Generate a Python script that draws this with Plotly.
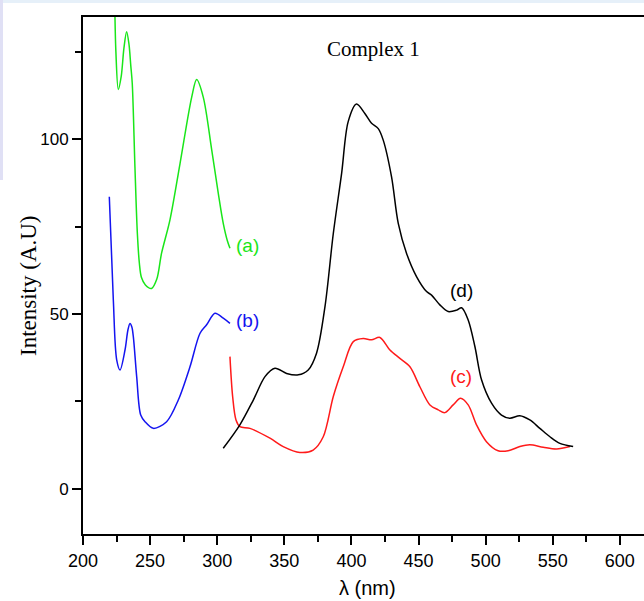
import plotly.graph_objects as go

# ---- data ----
wl_a = [223.6, 224.5, 226.3, 228.5, 230.5, 232.5, 234.3, 235.6, 236.7, 238.7, 240.5, 242.0, 243.5,
        246.5, 251.1, 255.0, 258.5, 264.8, 272.3, 281.0, 284.7, 289.6, 295.9, 300.8, 304.5,
        307.5, 309.5]
int_a = [140, 125, 114.2, 118, 126, 130.7, 127, 121, 115.9, 92, 73, 64.5, 60.5,
         58.3, 57.3, 60, 67.3, 76.9, 93, 112, 117, 112, 96.9, 84.5, 75.9,
         71, 68.8]

wl_b = [219.6, 222.6, 225.1, 227.6, 231.3, 233.5, 235.0, 236.4, 237.5, 240.0, 243.0, 246.2,
        252.4, 262.3, 271.0, 279.7, 287.2, 292.1, 298.3, 304.5, 309.5]
int_b = [83.5, 54, 36.9, 34, 39.7, 45.5, 47.3, 46.3, 43.5, 32.1, 21.1, 19.2,
         17.3, 19.2, 25.4, 34.9, 44.5, 46.9, 50.2, 48.8, 47.3]

wl_c = [309.5, 311.5, 314.0, 316.9, 324.4, 339.3, 349.2, 361.6, 371.5, 379.0, 386.5, 393.9,
        401.4, 408.8, 415.0, 421.2, 428.7, 436.1, 443.6, 451.0, 458.5, 464.7, 469.6, 475.8,
        481.3, 487.0, 493.2, 500.6, 509.3, 516.8, 525.5, 532.9, 542.9, 552.8, 562.8]
int_c = [37.8, 26.4, 19.7, 17.8, 17.3, 14.5, 12.1, 10.4, 11.1, 14.9, 26.4, 34.9,
         42.1, 43.0, 42.6, 43.3, 39.7, 37.3, 34.9, 29.2, 24.0, 22.6, 21.8, 24.0,
         25.9, 24.0, 18.3, 13.5, 10.9, 10.9, 12.1, 12.6, 11.9, 11.4, 12.1]

wl_d = [304.5, 316.9, 326.9, 335.6, 343.0, 351.7, 360.4, 367.8, 374.0, 380.3, 386.5, 392.7,
        397.6, 403.8, 410.0, 415.0, 420.0, 423.7, 429.9, 434.9, 441.1, 448.5, 456.0, 459.7,
        465.9, 472.1, 478.4, 482.1, 487.0, 492.0, 497.0, 504.4, 511.8, 518.0, 525.5, 532.9,
        540.4, 547.9, 555.3, 565.2]
int_d = [11.6, 18.3, 25.4, 32.1, 34.5, 33.0, 32.6, 34.0, 38.8, 52.1, 73.0, 90.2,
         105.0, 110.0, 107.3, 104.5, 103.0, 99.7, 89.2, 75.9, 67.3, 60.7, 56.4, 55.4,
         52.6, 50.7, 51.1, 51.8, 48.3, 40.7, 31.1, 24.5, 21.1, 20.2, 20.9, 19.7,
         17.3, 14.9, 13.0, 12.1]

series_names = ["(a)", "(b)", "(c)", "(d)"]
series_colors = ["#19e619", "#1414f0", "#ff1a1a", "#000000"]
label_pos_x = [322.5, 322.5, 482.0, 482.0]
label_pos_y = [69.7, 48.0, 32.0, 56.7]

x_ticks = [200, 250, 300, 350, 400, 450, 500, 550, 600]
y_ticks = [0, 50, 100]

fig = go.Figure()
for xs, ys, name, col in zip([wl_a, wl_b, wl_c, wl_d], [int_a, int_b, int_c, int_d],
                             series_names, series_colors):
    fig.add_trace(go.Scatter(x=xs, y=ys, mode="lines", name=name,
                             line=dict(color=col, width=1.5, shape="spline", smoothing=0.9),
                             showlegend=False, hoverinfo="skip"))

for name, col, lx, ly in zip(series_names, series_colors, label_pos_x, label_pos_y):
    fig.add_annotation(x=lx, y=ly, text=name, showarrow=False,
                       font=dict(family="Liberation Sans, Arial, sans-serif", size=19, color=col))

fig.add_annotation(x=416.4, y=125.7, text="Complex 1", showarrow=False,
                   font=dict(family="Liberation Serif, Times New Roman, serif", size=21, color="black"))

# axis titles
fig.add_annotation(xref="paper", yref="paper", x=(28 - 83) / 561, y=(534 - 286) / 517,
                   xanchor="center", yanchor="middle",
                   text="Intensity (A.U)", textangle=-90, showarrow=False,
                   font=dict(family="Liberation Serif, Times New Roman, serif", size=23, color="black"))
fig.add_annotation(xref="paper", yref="paper", x=(367 - 83) / 561, y=(534 - 588) / 517,
                   xanchor="center", yanchor="middle",
                   text="λ (nm)", showarrow=False,
                   font=dict(family="Liberation Sans, Arial, sans-serif", size=20, color="black"))

# faint page decoration (top strip and left strip)
fig.add_shape(type="rect", xref="paper", yref="paper", x0=(0 - 83) / 561, x1=1,
              y0=1 + 14 / 517, y1=1 + 17 / 517, line=dict(width=0), fillcolor="#e6f0f9", layer="below")
fig.add_shape(type="rect", xref="paper", yref="paper", x0=(0 - 83) / 561, x1=(3 - 83) / 561,
              y0=(534 - 180) / 517, y1=1 + 17 / 517, line=dict(width=0), fillcolor="#e0e0f5", layer="below")

tick_font = dict(family="Liberation Sans, Arial, sans-serif", size=18, color="black")

fig.update_layout(
    width=644, height=601, autosize=False,
    margin=dict(l=83, r=0, t=17, b=67),
    paper_bgcolor="white", plot_bgcolor="white",
    xaxis=dict(range=[200, 618], tickvals=x_ticks, ticks="outside", ticklen=9, tickwidth=1.5,
               tickcolor="black", showline=True, linewidth=2, linecolor="black", mirror=True,
               showgrid=False, zeroline=False, tickfont=tick_font,
               minor=dict(dtick=25, ticks="outside", ticklen=6, tickwidth=1.5, tickcolor="black")),
    yaxis=dict(range=[-12.9, 134.9], tickvals=y_ticks, ticks="outside", ticklen=9, tickwidth=1.5,
               tickcolor="black", showline=True, linewidth=2, linecolor="black", mirror=False,
               showgrid=False, zeroline=False,
               tickfont=dict(family="Liberation Sans, Arial, sans-serif", size=17, color="black"),
               minor=dict(dtick=25, ticks="outside", ticklen=6, tickwidth=1.5, tickcolor="black")),
)

fig.write_html("out.html", config={"displayModeBar": False},
               post_script="document.body.style.margin='0';document.body.style.overflow='hidden';")
